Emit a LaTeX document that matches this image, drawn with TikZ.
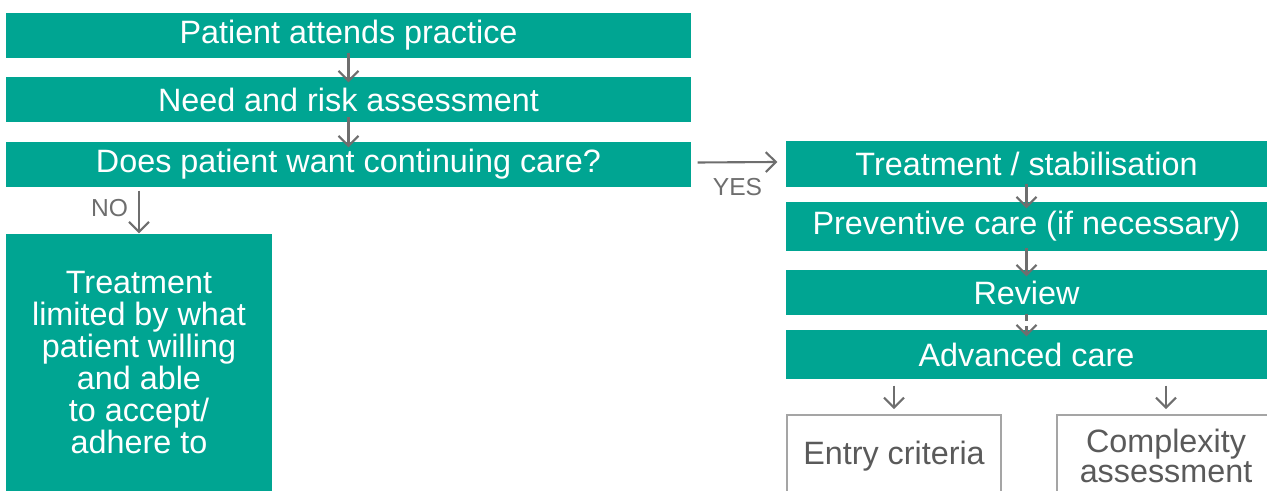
\documentclass[tikz,border=0pt]{standalone}
\usepackage{fontspec}
\setmainfont{Liberation Sans}
\usetikzlibrary{arrows.meta}
\definecolor{cteal}{RGB}{0,165,146}
\definecolor{cgray}{RGB}{110,110,110}
\definecolor{ctext}{RGB}{90,90,90}
\definecolor{cline}{RGB}{165,165,165}

\begin{document}
\begin{tikzpicture}[
  tealbox/.style={fill=cteal, text=white, inner sep=0pt, anchor=center,
    font=\fontsize{9.2}{9.1}\selectfont, align=center},
  outbox/.style={draw=cline, line width=0.5pt, text=ctext, inner sep=0pt,
    font=\fontsize{9.2}{8.6}\selectfont, align=center},
  flow/.style={draw=cgray, line width=0.6pt, -{Straight Barb[length=0.1cm, width=0.2cm]}},
  lbl/.style={text=cgray, inner sep=0pt, font=\fontsize{7}{8}\selectfont}
]
\useasboundingbox (0,0) rectangle (12.67,4.91);
\clip (0,0) rectangle (12.67,4.91);

% Left column
\node[tealbox, minimum width=6.85cm, minimum height=0.45cm] (attend) at (3.485, 4.555) {Patient attends practice};
\node[tealbox, minimum width=6.85cm, minimum height=0.45cm] (need) at (3.485, 3.915) {Need and risk assessment};
\node[tealbox, minimum width=6.85cm, minimum height=0.45cm] (want) at (3.485, 3.265) {Does patient want continuing care?};
\node[tealbox, minimum width=2.66cm, minimum height=2.57cm] (limit) at (1.39, 1.285)
  {Treatment\\limited by what\\patient willing\\and able\\to accept/\\adhere to};

% Right column
\node[tealbox, minimum width=4.81cm, minimum height=0.46cm] (stab) at (10.265, 3.27) {Treatment / stabilisation};
\node[tealbox, minimum width=4.81cm, minimum height=0.49cm] (prev) at (10.265, 2.645) {Preventive care (if necessary)};
\node[tealbox, minimum width=4.81cm, minimum height=0.45cm] (review) at (10.265, 1.985) {Review};
\node[tealbox, minimum width=4.81cm, minimum height=0.49cm] (adv) at (10.265, 1.365) {Advanced care};

% Bottom boxes
\node[outbox, minimum width=2.14cm, minimum height=0.82cm] (entry) at (8.94, 0.35) {Entry criteria};
\node[outbox, minimum width=2.18cm, minimum height=0.82cm] (cplx) at (11.66, 0.35) {Complexity\\assessment};

% Arrows
\draw[flow] ([yshift=0.06cm]attend.south) -- ([yshift=-0.06cm]need.north);
\draw[flow] ([yshift=0.06cm]need.south) -- ([yshift=-0.06cm]want.north);
\draw[flow] ([xshift=0.06cm, yshift=0.02cm]want.east) -- ([xshift=-0.08cm, yshift=0.02cm]stab.west)
  node[midway, below=0.15cm, lbl] (yes) {YES};
\draw[flow] ([yshift=-0.03cm]want.south -| limit.north) -- (limit.north)
  node[pos=0.4, left=0.1cm, lbl] (no) {NO};
\draw[flow] ([yshift=0.04cm]stab.south) -- ([yshift=-0.07cm]prev.north);
\draw[flow] ([yshift=0.04cm]prev.south) -- ([yshift=-0.07cm]review.north);
\draw[flow, dash pattern=on 2pt off 1.5pt] ([yshift=0.02cm]review.south) -- ([yshift=-0.07cm]adv.north);
\draw[flow] ([yshift=-0.06cm]adv.south -| entry.north) -- ([yshift=0.05cm]entry.north);
\draw[flow] ([yshift=-0.06cm]adv.south -| cplx.north) -- ([yshift=0.05cm]cplx.north);
\end{tikzpicture}
\end{document}
